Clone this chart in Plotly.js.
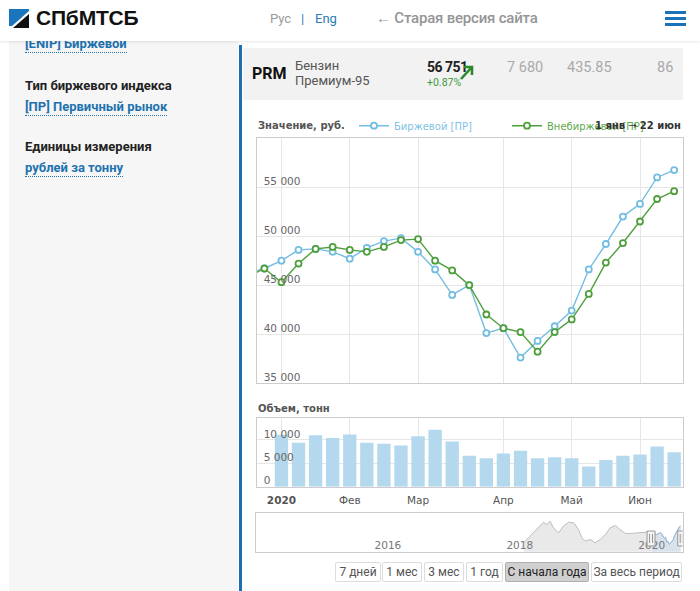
<!DOCTYPE html>
<html><head><meta charset="utf-8">
<script src="https://cdn.plot.ly/plotly-3.0.1.min.js"></script>
<style>
html,body{margin:0;padding:0;width:700px;height:591px;overflow:hidden;background:#fff;font-family:Roboto,"Open Sans",sans-serif;}
.a{position:absolute;white-space:nowrap;}
#header{position:absolute;left:0;top:0;width:700px;height:41px;background:#fff;box-shadow:0 1px 3px rgba(0,0,0,0.10);z-index:5}
#side{position:absolute;left:9px;top:41px;width:229px;height:550px;background:#f6f6f6}
#vbar{position:absolute;left:239px;top:45px;width:3px;height:546px;background:#1f6fae}
#prm{position:absolute;left:243px;top:48px;width:440px;height:52px;background:#f2f2f2}
.lbl{font-size:13px;font-weight:700;color:#222;line-height:18px}
.lnk{font-size:13px;font-weight:700;color:#1e72b0;line-height:17px;border-bottom:1px dotted #1e72b0}
.btn{position:absolute;top:562px;height:18px;line-height:18px;border:1px solid #ddd;border-radius:2px;background:#fff;color:#555;font-size:12px;text-align:center;box-sizing:content-box}
.btn.sel{background:#cfcfcf;border-color:#b0b0b0;color:#222}
#chart{position:absolute;left:0;top:0;width:700px;height:591px;z-index:2}
</style></head>
<body>
<div id="header">
  <svg class="a" style="left:9px;top:9px" width="20" height="19" viewBox="0 0 20 19">
    <polygon points="0,0 20,0 20,2 3,17 0,17" fill="#1a75bc"/>
    <polygon points="20,5 20,19 4,19" fill="#111"/>
  </svg>
  <div class="a" style="left:36px;top:6px;font-family:'Liberation Sans',Arial,sans-serif;font-weight:700;font-size:21px;color:#111;letter-spacing:-0.2px">СПбМТСБ</div>
  <div class="a" style="left:270px;top:11px;font-size:13px;color:#999">Рус</div>
  <div class="a" style="left:301px;top:11px;font-size:13px;color:#2b7bb9">|</div>
  <div class="a" style="left:315px;top:11px;font-size:13px;color:#2b7bb9">Eng</div>
  <div class="a" style="left:376px;top:9px;font-size:15px;font-weight:500;color:#959595;letter-spacing:-0.2px">← Старая версия сайта</div>
  <div class="a" style="left:665px;top:11px;width:21px;height:3px;background:#1a73b8"></div>
  <div class="a" style="left:665px;top:17px;width:21px;height:3px;background:#1a73b8"></div>
  <div class="a" style="left:665px;top:23px;width:21px;height:3px;background:#1a73b8"></div>
</div>
<div id="side"></div>
<div class="a lnk" style="left:25px;top:35px">[ENIP] Биржевой</div>
<div class="a lbl" style="left:25px;top:77px">Тип биржевого индекса</div>
<div class="a lnk" style="left:25px;top:98px">[ПР] Первичный рынок</div>
<div class="a lbl" style="left:25px;top:138px">Единицы измерения</div>
<div class="a lnk" style="left:25px;top:159px">рублей за тонну</div>
<div id="vbar"></div>
<div id="prm"></div>
<div class="a" style="left:252px;top:64px;font-size:16px;font-weight:700;color:#111;line-height:20px">PRM</div>
<div class="a" style="left:295px;top:57px;font-size:13px;color:#555;line-height:17px">Бензин</div>
<div class="a" style="left:295px;top:72px;font-size:13px;color:#555;line-height:17px">Премиум-95</div>
<div class="a" style="left:427px;top:59px;font-size:14px;font-weight:700;color:#222;line-height:17px;letter-spacing:-0.5px">56 751</div>
<div class="a" style="left:427px;top:76px;font-size:10.5px;color:#3c9a3c;line-height:13px">+0.87%</div>
<svg class="a" style="left:459px;top:64px" width="16" height="17" viewBox="0 0 16 17">
  <line x1="2" y1="15" x2="12" y2="4" stroke="#2a8a2a" stroke-width="2.6"/>
  <polyline points="5,3 13,3 13,11" fill="none" stroke="#2a8a2a" stroke-width="2.6"/>
</svg>
<div class="a" style="left:507px;top:58px;font-size:14.5px;color:#aaa;line-height:19px">7 680</div>
<div class="a" style="left:567px;top:58px;font-size:14.5px;color:#aaa;line-height:19px">435.85</div>
<div class="a" style="left:657px;top:58px;font-size:14.5px;color:#aaa;line-height:19px">86</div>

<div class="btn" style="left:335px;width:44px">7 дней</div>
<div class="btn" style="left:382px;width:38px">1 мес</div>
<div class="btn" style="left:424px;width:38px">3 мес</div>
<div class="btn" style="left:466px;width:35px">1 год</div>
<div class="btn sel" style="left:505px;width:82px">С начала года</div>
<div class="btn" style="left:591px;width:89px">За весь период</div>

<div id="chart"></div>
<script>
// ---- data ----
const monthTicks = [0, 4, 8, 13, 17, 21];
const monthLabels = ['<b>2020</b>', 'Фев', 'Мар', 'Апр', 'Май', 'Июн'];
const firstWeek = -2; // week index of first price point (0 = 1 янв)
const birzhevoy = [46200, 46700, 47500, 48600, 48700, 48400, 47700, 48800, 49500, 49800, 48400, 46600, 44000,
                   45000, 40100, 40600, 37600, 39300, 40800, 42400, 46600, 49200, 52000, 53300, 56000, 56750];
const vnebirzhevoy = [45800, 46700, 45300, 47200, 48700, 48900, 48600, 48400, 48900, 49600, 49700, 47500, 46500,
                      45000, 42000, 40600, 40200, 38200, 40200, 41500, 44100, 47300, 49300, 51500, 53800, 54600];
const volume = [11100, 9400, 11000, 10400, 11200, 9400, 9200, 8800, 10800, 12200, 9700, 6600,
                6100, 7100, 7700, 6100, 6300, 6100, 4300, 5700, 6600, 6900, 8600, 7400];
const priceTicks = [35000, 40000, 45000, 50000, 55000];
const volumeTicks = [0, 5000, 10000];
const navYears = [2018.06, 2018.21, 2018.31, 2018.36, 2018.41, 2018.46, 2018.51, 2018.59, 2018.66, 2018.74,
                  2018.82, 2018.89, 2018.94, 2018.99, 2019.07, 2019.14, 2019.22, 2019.30, 2019.37, 2019.45,
                  2019.52, 2019.60, 2019.68, 2019.78, 2019.93];
const navValues = [39300, 49700, 56600, 60700, 58300, 61700, 54900, 49700, 56600, 60700,
                   60000, 53100, 44500, 41000, 42800, 39300, 42800, 48000, 54900, 57300,
                   53100, 49000, 49000, 49700, 50400];
const navYearTicks = [2016, 2018, 2020];

// ---- build ----
const W = 700, H = 591;
const px = x => x / W, py = y => 1 - y / H;
const priceX = birzhevoy.map((v, i) => i + firstWeek);
const volX = volume.map((v, i) => i);
const yearStart = 2020;
const navSelX = birzhevoy.slice(-firstWeek).map((v, i) => yearStart + i * 7 / 366);
const navSelY = birzhevoy.slice(-firstWeek);

const blue = '#74bde2', green = '#4f9f3c';
const font = 'DejaVu Sans, Verdana, sans-serif';

const traces = [
  {x: priceX, y: birzhevoy, type: 'scatter', mode: 'lines+markers', xaxis: 'x', yaxis: 'y',
   name: '<span style="color:#7fc2e4">Биржевой [ПР]</span>',
   line: {color: blue, width: 1.4}, marker: {size: 6, color: '#fff', line: {color: blue, width: 1.8}},
   hoverinfo: 'skip', cliponaxis: true},
  {x: priceX, y: vnebirzhevoy, type: 'scatter', mode: 'lines+markers', xaxis: 'x', yaxis: 'y',
   name: '<span style="color:#5fa94b">Внебиржевой [ПР]</span>',
   line: {color: green, width: 1.4}, marker: {size: 6, color: '#fff', line: {color: green, width: 1.8}},
   hoverinfo: 'skip', cliponaxis: true},
  {x: volX, y: volume, type: 'bar', xaxis: 'x2', yaxis: 'y2', showlegend: false,
   marker: {color: '#b4d8ed', line: {width: 0}}, hoverinfo: 'skip'},
  {x: navYears.concat([navSelX[0]]), y: navValues.concat([navSelY[0]]), type: 'scatter', mode: 'lines',
   xaxis: 'x3', yaxis: 'y3', showlegend: false, fill: 'tozeroy', fillcolor: '#e9e9e9',
   line: {color: '#bdbdbd', width: 1}, hoverinfo: 'skip'},
  {x: navSelX, y: navSelY, type: 'scatter', mode: 'lines', xaxis: 'x3', yaxis: 'y3', showlegend: false,
   fill: 'tozeroy', fillcolor: '#d9e2eb', line: {color: '#86acd0', width: 1}, hoverinfo: 'skip'},
  // helper axes: inside value labels, month grid and month labels
  {x: priceX, y: birzhevoy, type: 'scatter', mode: 'none', xaxis: 'x', yaxis: 'y4', showlegend: false, hoverinfo: 'skip'},
  {x: volX, y: volume, type: 'scatter', mode: 'none', xaxis: 'x2', yaxis: 'y5', showlegend: false, hoverinfo: 'skip'},
  {x: priceX, y: birzhevoy, type: 'scatter', mode: 'none', xaxis: 'x7', yaxis: 'y', showlegend: false, hoverinfo: 'skip'},
  {x: volX, y: volume, type: 'scatter', mode: 'none', xaxis: 'x6', yaxis: 'y2', showlegend: false, hoverinfo: 'skip'}
];

const gridC = '#e6e6e6', lineC = '#cccccc';
function handle(xv) {
  return [
    {type: 'rect', xref: 'x3', yref: 'paper', xsizemode: 'pixel', xanchor: xv, x0: -4, x1: 4,
     y0: py(546), y1: py(531), fillcolor: '#f2f2f2', line: {color: '#999', width: 1}},
    {type: 'line', xref: 'x3', yref: 'paper', xsizemode: 'pixel', xanchor: xv, x0: -1.5, x1: -1.5,
     y0: py(543), y1: py(534), line: {color: '#999', width: 1}},
    {type: 'line', xref: 'x3', yref: 'paper', xsizemode: 'pixel', xanchor: xv, x0: 1.5, x1: 1.5,
     y0: py(543), y1: py(534), line: {color: '#999', width: 1}}
  ];
}
const labelAxis = (ov, dom, rng, tv) => ({
  overlaying: ov, anchor: 'free', position: px(256.7), domain: dom, range: rng, tickvals: tv,
  tickformat: ',d', ticklabelposition: 'inside', ticklabelshift: -6, ticklabelstandoff: 3, ticks: '',
  showgrid: false, zeroline: false, showline: false, tickfont: {family: font, size: 10.5, color: '#666'}
});

const xDom = [px(256.7), px(682.7)], weekRange = [-1.45, 23.5];
const mainDom = [py(383), py(138.3)], volDom = [py(486.7), py(417.7)];
const priceRange = [35000, 60000], volRange = [0, 14770];

const layout = {
  width: W, height: H, margin: {l: 0, r: 0, t: 0, b: 0},
  paper_bgcolor: 'rgba(0,0,0,0)', plot_bgcolor: '#fff',
  separators: ', ', bargap: 0.22,
  font: {family: font, size: 10.5, color: '#666'},
  showlegend: true,
  legend: {orientation: 'h', x: px(354), y: py(125.7), xanchor: 'left', yanchor: 'middle',
           font: {family: font, size: 10}, bgcolor: 'rgba(0,0,0,0)', entrywidth: 108,
           entrywidthmode: 'pixels', tracegroupgap: 0},
  xaxis: {domain: xDom, range: weekRange, showticklabels: false, ticks: '', showgrid: false,
          zeroline: false, showline: true, mirror: true, linecolor: lineC, anchor: 'y'},
  xaxis7: {overlaying: 'x', anchor: 'free', position: py(383), domain: xDom, range: weekRange,
           tickvals: monthTicks, showticklabels: false, ticks: '', showgrid: true, gridcolor: gridC,
           zeroline: false, showline: false},
  yaxis: {domain: mainDom, range: priceRange, tickvals: priceTicks, showticklabels: false, ticks: '',
          showgrid: true, gridcolor: gridC, zeroline: false, showline: true, mirror: true, linecolor: lineC,
          anchor: 'x'},
  yaxis4: labelAxis('y', mainDom, priceRange, priceTicks),
  xaxis2: {domain: xDom, range: weekRange, showticklabels: false, ticks: '', showgrid: false,
           zeroline: false, showline: true, mirror: true, linecolor: lineC, anchor: 'y2'},
  xaxis6: {overlaying: 'x2', anchor: 'free', position: py(486.7), domain: xDom, range: weekRange,
           tickvals: monthTicks, ticktext: monthLabels, ticks: '', ticklabelstandoff: 6, showgrid: true,
           gridcolor: gridC, zeroline: false, showline: false,
           tickfont: {family: font, size: 10.5, color: '#555'}},
  yaxis2: {domain: volDom, range: volRange, tickvals: volumeTicks, showticklabels: false, ticks: '',
           showgrid: true, gridcolor: gridC, zeroline: false, showline: true, mirror: true, linecolor: lineC,
           anchor: 'x2'},
  yaxis5: labelAxis('y2', volDom, volRange, volumeTicks),
  xaxis3: {domain: [px(256), px(682.7)], range: [2014.0, 2020.47], tickvals: navYearTicks,
           ticktext: navYearTicks.map(String), ticklabelposition: 'inside', ticks: '', showgrid: false,
           zeroline: false, showline: true, mirror: true, linecolor: lineC,
           tickfont: {family: font, size: 10.5, color: '#777'}, anchor: 'y3'},
  yaxis3: {domain: [py(551.7), py(513.3)], range: [30000, 70000], showticklabels: false, ticks: '',
           showgrid: false, zeroline: false, showline: true, mirror: true, linecolor: lineC, anchor: 'x3'},
  annotations: [
    {xref: 'paper', yref: 'paper', x: px(255.5), y: py(125.7), xanchor: 'left', yanchor: 'middle',
     text: '<b>Значение, руб.</b>', showarrow: false, font: {family: font, size: 10, color: '#555'}},
    {xref: 'paper', yref: 'paper', x: px(255.5), y: py(408.5), xanchor: 'left', yanchor: 'middle',
     text: '<b>Объем, тонн</b>', showarrow: false, font: {family: font, size: 10, color: '#555'}},
    {xref: 'paper', yref: 'paper', x: px(683), y: py(125.7), xanchor: 'right', yanchor: 'middle',
     text: '<b>1 янв</b> → <b>22 июн</b>', showarrow: false, font: {family: font, size: 10, color: '#333'}}
  ],
  shapes: [].concat(handle(2019.99), handle(2020.455))
};

Plotly.newPlot('chart', traces, layout, {staticPlot: true, displayModeBar: false});
</script>
</body></html>
